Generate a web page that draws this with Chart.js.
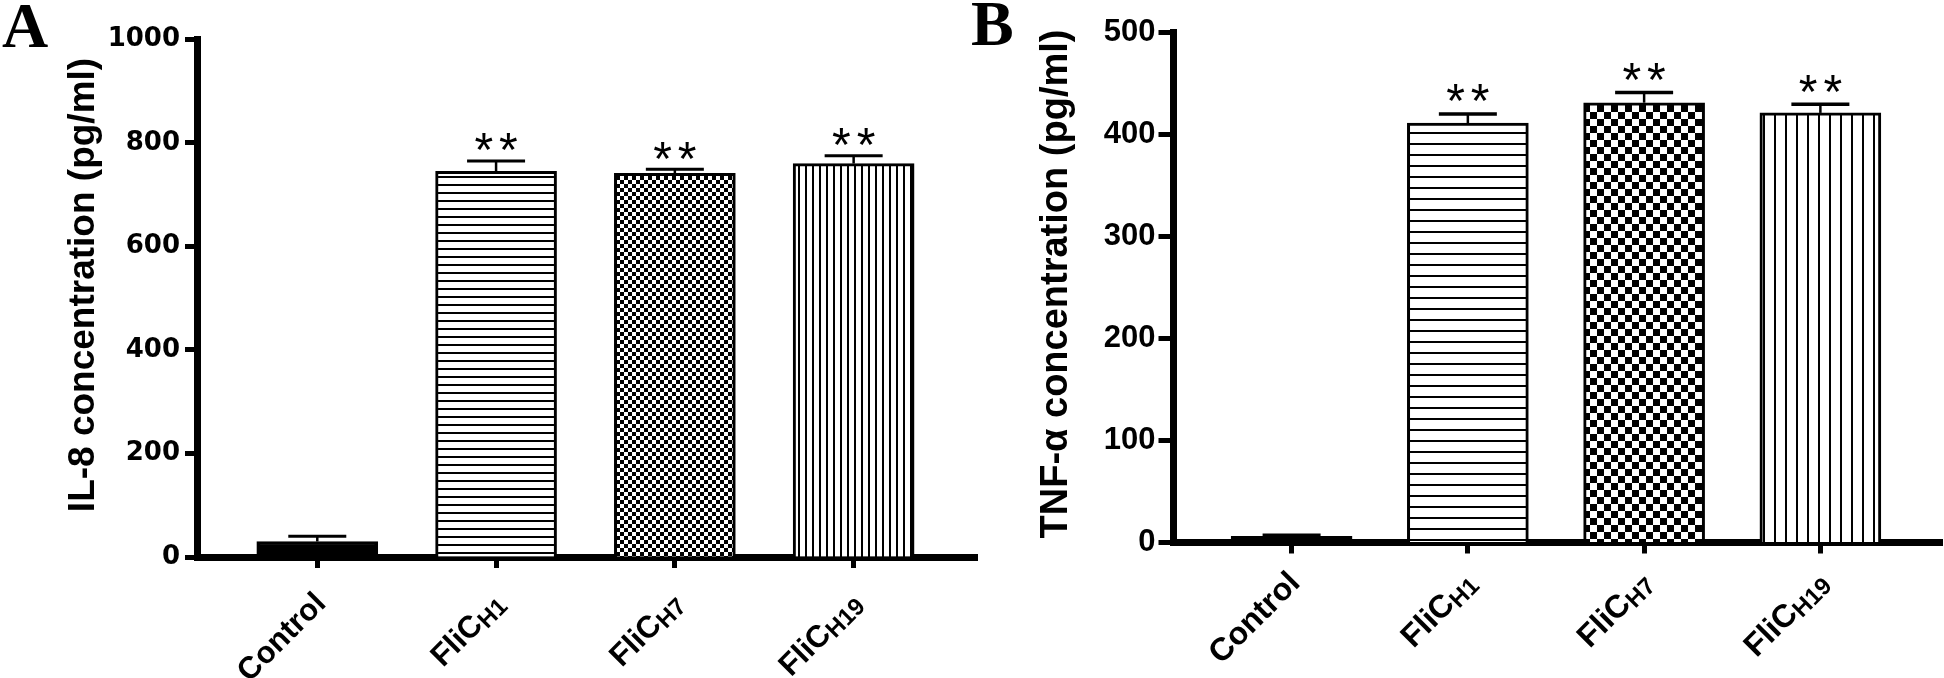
<!DOCTYPE html>
<html><head><meta charset="utf-8">
<script src="https://cdn.jsdelivr.net/npm/chart.js@4.4.1/dist/chart.umd.min.js"></script>
<style>
html,body{margin:0;padding:0;background:#fff;width:1944px;height:678px;overflow:hidden;}
#wa{position:absolute;left:0;top:0;width:980px;height:678px;}
#wb{position:absolute;left:960px;top:0;width:984px;height:678px;}
</style></head><body>
<div id="wa"><canvas id="ca"></canvas></div>
<div id="wb"><canvas id="cb"></canvas></div>
<script>
// ---- data ----
const categories = ['Control', 'FliC', 'FliC', 'FliC'];
const categorySubscripts = ['', 'H1', 'H7', 'H19'];
const il8Means = [30, 745, 741, 760];
const il8Errors = [10, 20, 8, 15];
const tnfMeans = [6, 411, 431, 421];
const tnfErrors = [1, 9, 10, 8.5];
const significance = ['', '**', '**', '**'];
const il8Ticks = [0, 200, 400, 600, 800, 1000];
const tnfTicks = [0, 100, 200, 300, 400, 500];
const il8Title = 'IL-8 concentration (pg/ml)';
const tnfTitle = 'TNF-\u03b1 concentration (pg/ml)';

function makePattern(ctx, kind, period, lw) {
  const c = document.createElement('canvas');
  c.width = period; c.height = period;
  const g = c.getContext('2d');
  g.fillStyle = '#fff'; g.fillRect(0, 0, period, period);
  g.fillStyle = '#000';
  if (kind === 'h') g.fillRect(0, 0, period, lw);
  else if (kind === 'v') g.fillRect(0, 0, lw, period);
  else { const h = period / 2; g.fillRect(0, 0, h, h); g.fillRect(h, h, h, h); }
  return ctx.createPattern(c, 'repeat');
}

const decor = {
  id: 'decor',
  afterDatasetsDraw(chart) {
    const cfg = chart.options.plugins.decor;
    const ctx = chart.ctx, xs = chart.scales.x, ys = chart.scales.y;
    ctx.save();
    ctx.strokeStyle = '#000'; ctx.fillStyle = '#000';
    cfg.means.forEach((m, i) => {
      const px = xs.getPixelForValue(i);
      const top = ys.getPixelForValue(m);
      const cap = ys.getPixelForValue(m + cfg.errors[i]);
      ctx.lineWidth = cfg.stemLW;
      ctx.beginPath(); ctx.moveTo(px, top); ctx.lineTo(px, cap); ctx.stroke();
      ctx.lineWidth = cfg.capLW;
      ctx.beginPath(); ctx.moveTo(px - cfg.capW / 2, cap); ctx.lineTo(px + cfg.capW / 2, cap); ctx.stroke();
      const s = significance[i];
      if (s) {
        const ls = 6;
        ctx.font = '48px "Liberation Sans"';
        try { ctx.letterSpacing = ls + 'px'; } catch (e) {}
        const mt = ctx.measureText(s);
        const w = mt.width - ls;
        const asc = mt.actualBoundingBoxAscent, desc = mt.actualBoundingBoxDescent;
        const cy = cap - cfg.starGap;
        ctx.textAlign = 'left'; ctx.textBaseline = 'alphabetic';
        ctx.fillText(s, px - w / 2, cy + (asc - desc) / 2);
        try { ctx.letterSpacing = '0px'; } catch (e) {}
      }
    });
    ctx.restore();
  },
  afterDraw(chart) {
    const cfg = chart.options.plugins.decor;
    const ctx = chart.ctx, xs = chart.scales.x;
    ctx.save();
    ctx.fillStyle = '#000';
    // category labels, rotated 45 degrees, with subscripts
    categories.forEach((lab, i) => {
      const px = xs.getPixelForValue(i);
      const sub = categorySubscripts[i];
      ctx.save();
      ctx.translate(px + cfg.labelDx, chart.chartArea.bottom + cfg.labelDy);
      ctx.rotate(-Math.PI / 4);
      ctx.textAlign = 'left'; ctx.textBaseline = 'alphabetic';
      const mainFont = 'bold ' + cfg.labelSize + 'px "Liberation Sans"';
      const subFont = 'bold ' + Math.round(cfg.labelSize * 0.76) + 'px "Liberation Sans"';
      ctx.font = subFont;
      const subW = sub ? ctx.measureText(sub).width : 0;
      ctx.font = mainFont;
      const mainW = ctx.measureText(lab).width;
      ctx.fillText(lab, -(mainW + subW), 0);
      if (sub) { ctx.font = subFont; ctx.fillText(sub, -subW, 4); }
      ctx.restore();
    });
    // y axis title
    ctx.save();
    ctx.font = 'bold ' + cfg.titleSize + 'px "Liberation Sans"';
    const tm = ctx.measureText(cfg.title);
    const off = (tm.actualBoundingBoxDescent - tm.actualBoundingBoxAscent) / 2;
    ctx.translate(cfg.titleX - off, cfg.titleY);
    ctx.rotate(-Math.PI / 2);
    ctx.textAlign = 'center'; ctx.textBaseline = 'alphabetic';
    ctx.fillText(cfg.title, 0, 0);
    ctx.restore();
    // panel letter
    ctx.font = 'bold 64px "Liberation Serif"';
    ctx.textAlign = 'left'; ctx.textBaseline = 'alphabetic';
    ctx.fillText(cfg.letter, cfg.letterX, cfg.letterY);
    ctx.restore();
  }
};

function build(canvasId, p) {
  const ctx = document.getElementById(canvasId).getContext('2d');
  const fills = ['#000',
    makePattern(ctx, 'h', p.hPeriod, 2),
    makePattern(ctx, 'c', p.cPeriod, 0),
    makePattern(ctx, 'v', p.vPeriod, 2)];
  return new Chart(ctx, {
    type: 'bar',
    data: {
      datasets: [{
        data: p.means.map((v, i) => ({ x: i, y: v })),
        backgroundColor: fills,
        borderColor: '#000',
        borderWidth: 3,
        borderSkipped: 'start',
        barThickness: 121
      }]
    },
    options: {
      responsive: true, maintainAspectRatio: false, animation: false,
      events: [],
      layout: { padding: { top: p.padTop, right: p.padRight, left: 0, bottom: 0 } },
      plugins: {
        legend: { display: false }, tooltip: { enabled: false },
        decor: {
          means: p.means, errors: p.errors, capW: 58, capLW: p.capLW, stemLW: 2.5,
          starGap: p.starGap, labelDx: 10, labelDy: p.labelDy, labelSize: p.labelSize,
          title: p.title, titleSize: p.titleSize, titleX: p.titleX, titleY: p.titleY,
          letter: p.letter, letterX: p.letterX, letterY: p.letterY
        }
      },
      scales: {
        x: {
          type: 'linear', min: -0.67, max: 3.69, offset: false, z: 1,
          afterBuildTicks: s => { s.ticks = categories.map((_, i) => ({ value: i })); },
          afterFit: s => { s.height = p.xHeight; },
          ticks: { display: false },
          grid: { offset: false, drawOnChartArea: false, drawTicks: true, tickLength: 11, tickWidth: 5, tickColor: '#000' },
          border: { display: true, color: '#000', width: 7 }
        },
        y: {
          min: 0, max: p.max, z: 1,
          afterBuildTicks: s => { s.ticks = p.ticks.map(v => ({ value: v })); },
          afterFit: s => { s.width = p.yWidth; },
          ticks: { color: '#000', padding: p.tickPad, font: p.tickFont, callback: v => String(v) },
          grid: { drawOnChartArea: false, drawTicks: true, tickLength: p.tickLen, tickWidth: 5, tickColor: '#000' },
          border: { display: true, color: '#000', width: 7 }
        }
      }
    },
    plugins: [decor]
  });
}

function go() {
  build('ca', {
    means: il8Means, errors: il8Errors, ticks: il8Ticks, max: 1000,
    padTop: 39.3, padRight: 3, yWidth: 197.5, xHeight: 121,
    tickFont: { family: 'DejaVu Sans', weight: 'bold', size: 26 }, tickLen: 12.5, tickPad: 5,
    hPeriod: 8, cPeriod: 8, vPeriod: 7, capLW: 3, starGap: 19,
    labelDy: 48, labelSize: 31,
    title: il8Title, titleSize: 37, titleX: 84, titleY: 285,
    letter: 'A', letterX: 2, letterY: 47
  });
  build('cb', {
    means: tnfMeans, errors: tnfErrors, ticks: tnfTicks, max: 500,
    padTop: 32.3, padRight: 2, yWidth: 213.5, xHeight: 135.5,
    tickFont: { family: 'Liberation Sans', weight: 'bold', size: 31 }, tickLen: 15, tickPad: 3,
    hPeriod: 11, cPeriod: 14, vPeriod: 11, capLW: 3.5, starGap: 21,
    labelDy: 42, labelSize: 32,
    title: tnfTitle, titleSize: 38, titleX: 97, titleY: 284,
    letter: 'B', letterX: 11, letterY: 45
  });
}
const fontLoads = ['bold 30px "Liberation Sans"', '30px "Liberation Sans"', 'bold 30px "DejaVu Sans"', 'bold 64px "Liberation Serif"']
  .map(f => document.fonts.load(f).catch(() => null));
Promise.all(fontLoads).then(go, go);
</script>
</body></html>
